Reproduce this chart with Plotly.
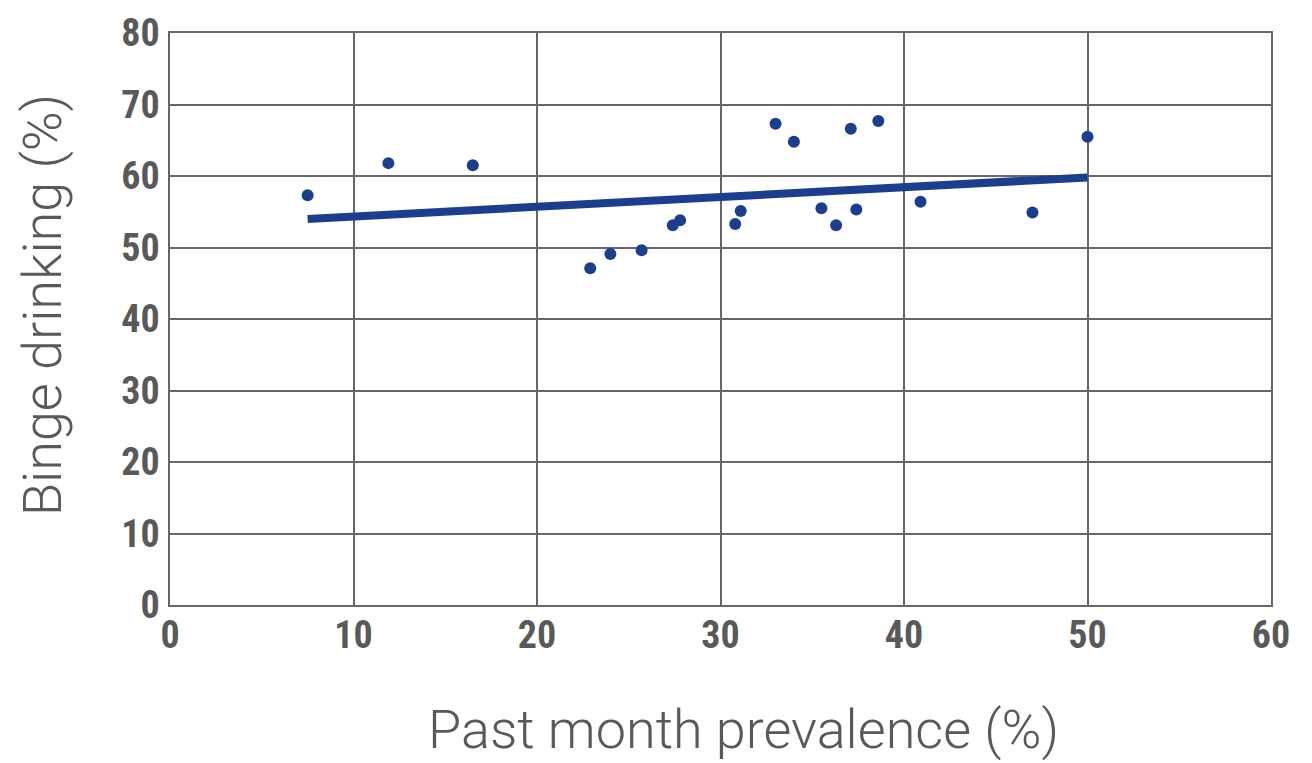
import plotly.graph_objects as go

# Data
past_month_prevalence = [7.5, 11.9, 16.5, 22.9, 24.0, 25.7, 27.4, 27.8, 30.8, 31.1,
                         33.0, 34.0, 35.5, 36.3, 37.1, 37.4, 38.6, 40.9, 47.0, 50.0]
binge_drinking = [57.3, 61.8, 61.5, 47.1, 49.1, 49.6, 53.1, 53.8, 53.3, 55.1,
                  67.3, 64.8, 55.5, 53.1, 66.6, 55.3, 67.7, 56.4, 54.9, 65.5]
trend_x = [7.5, 50.0]
trend_y = [54.0, 59.8]

x_ticks = [0, 10, 20, 30, 40, 50, 60]
y_ticks = [0, 10, 20, 30, 40, 50, 60, 70, 80]

BLUE = "#1b3f8e"
GRID = "#666666"
TICK_FONT = dict(family="Roboto Condensed, DejaVu Sans Condensed, sans-serif",
                 size=38, color="#595959", weight="bold")
TITLE_FONT = dict(family="Roboto, Lato, sans-serif", size=54, color="#595959", weight=300)

fig = go.Figure()
fig.add_trace(go.Scatter(
    x=trend_x, y=trend_y, mode="lines",
    line=dict(color=BLUE, width=8), hoverinfo="skip", showlegend=False))
fig.add_trace(go.Scatter(
    x=past_month_prevalence, y=binge_drinking, mode="markers",
    marker=dict(color=BLUE, size=12), showlegend=False))

fig.add_annotation(text="Past month prevalence (%)", xref="paper", yref="paper",
                   x=0.521, y=-0.2175, xanchor="center", yanchor="middle",
                   showarrow=False, font=TITLE_FONT)
fig.add_annotation(text="Binge drinking (%)", xref="paper", yref="paper",
                   x=-0.1153, y=0.5245, xanchor="center", yanchor="middle",
                   textangle=-90, showarrow=False, font=TITLE_FONT)

fig.update_layout(
    width=1304, height=755,
    margin=dict(l=162, r=41, t=25, b=158),
    paper_bgcolor="white", plot_bgcolor="white",
    xaxis=dict(
        range=[0, 60], tickvals=x_ticks, ticktext=[str(v) for v in x_ticks],
        showgrid=True, gridcolor=GRID, gridwidth=1.5,
        showline=True, linecolor=GRID, linewidth=1.5, mirror=True,
        zeroline=False, ticks="", tickfont=TICK_FONT, ticklabelstandoff=-4,
        automargin=False,
    ),
    yaxis=dict(
        range=[0, 80], tickvals=y_ticks, ticktext=[str(v) for v in y_ticks],
        showgrid=True, gridcolor=GRID, gridwidth=1.5,
        showline=True, linecolor=GRID, linewidth=1.5, mirror=True,
        zeroline=False, ticks="", tickfont=TICK_FONT, ticklabelstandoff=1,
        automargin=False,
    ),
)

fig.write_html("out.html")
